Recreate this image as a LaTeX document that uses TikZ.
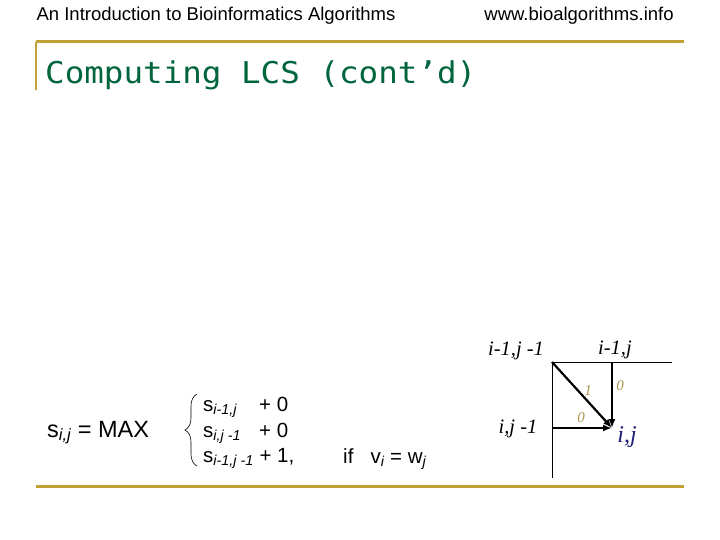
\documentclass[tikz,border=0pt]{standalone}
\usepackage{fontspec}
\setmainfont{Liberation Sans}
\newfontfamily\titlefont{DejaVu Sans Mono}
\newfontfamily\cellfont{Liberation Serif}
\usetikzlibrary{arrows.meta, decorations.pathreplacing}
\definecolor{slidegold}{RGB}{191, 161, 54}
\definecolor{slidegreen}{RGB}{0, 100, 60}
\definecolor{weightgold}{RGB}{170, 150, 80}
\definecolor{cellnavy}{RGB}{30, 30, 120}

\begin{document}
\begin{tikzpicture}[x=1pt, y=-1pt]
\tikzstyle{header} = [anchor=base, inner sep=0pt, font=\fontsize{18.5}{20}\selectfont]
\tikzstyle{rule} = [slidegold, line width=3pt]
\tikzstyle{term} = [anchor=base west, inner sep=0pt, font=\fontsize{20.5}{24}\selectfont]
\tikzstyle{cell} = [inner sep=0pt, font=\cellfont\itshape\fontsize{20.5}{24}\selectfont]
\tikzstyle{weight} = [inner sep=0pt, text=weightgold, font=\cellfont\itshape\fontsize{15}{17}\selectfont]
\tikzstyle{grid} = [black, line width=0.8pt]
\tikzstyle{arrow} = [line width=2.2pt, -{Latex[length=9pt, width=7pt]}]

\useasboundingbox (0,0) rectangle (720,540);

\node (course) [header] at (216,21) {An Introduction to Bioinformatics Algorithms};
\node (site) [header] at (579,21) {www.bioalgorithms.info};

\draw [rule] (36,42) -- (684,42);
\draw [slidegold, line width=2.5pt] (36,42) -- (36,90);
\draw [rule] (36,486) -- (684,486);

\node (title) [anchor=base west, inner sep=0pt, text=slidegreen, font=\titlefont\fontsize{30}{34}\selectfont] at (45,84) {\scalebox{1.085}[1]{Computing LCS (cont’d)}};

% recurrence
\node (score) [anchor=base west, inner sep=0pt, font=\fontsize{23.5}{28}\selectfont] at (47,437) {s\textsubscript{\itshape i,j} = MAX};
\draw [decorate, decoration={brace, amplitude=12pt}, line width=0.6pt] (197,466) -- (197,394);
\node (termup) [term] at (203,411) {s\textsubscript{\itshape i-1,j}};
\node (termupadd) [term] at (259,411) {+ 0};
\node (termleft) [term] at (203,437) {s\textsubscript{\itshape i,j -1}};
\node (termleftadd) [term] at (259,437) {+ 0};
\node (termdiag) [term] at (203,462) {s\textsubscript{\itshape i-1,j -1} + 1,};
\node (cond) [term] at (343,463) {if \ \ v\textsubscript{\itshape i} = w\textsubscript{\itshape j}};

% grid cell
\coordinate (nw) at (552,362);
\coordinate (ne) at (612,362);
\coordinate (sw) at (552,428);
\coordinate (se) at (612,428);
\coordinate (rowend) at (672,362);
\coordinate (colend) at (552,478);
\draw [grid] (nw) -- (rowend);
\draw [grid] (nw) -- (colend);
\draw [arrow] (nw) -- (se);
\draw [arrow] (ne) -- (se);
\draw [arrow] (sw) -- (se);

\node (nwlabel) [cell] at (516,351) {i-1,j -1};
\node (nelabel) [cell] at (615,350) {i-1,j};
\node (swlabel) [cell] at (518,429) {i,j -1};
\node (selabel) [cell, text=cellnavy, font=\cellfont\itshape\fontsize{24}{28}\selectfont] at (627,437) {i,j};
\node (diagweight) [weight] at (588,391) {1};
\node (upweight) [weight] at (620,386) {0};
\node (leftweight) [weight] at (581,418) {0};
\end{tikzpicture}
\end{document}
